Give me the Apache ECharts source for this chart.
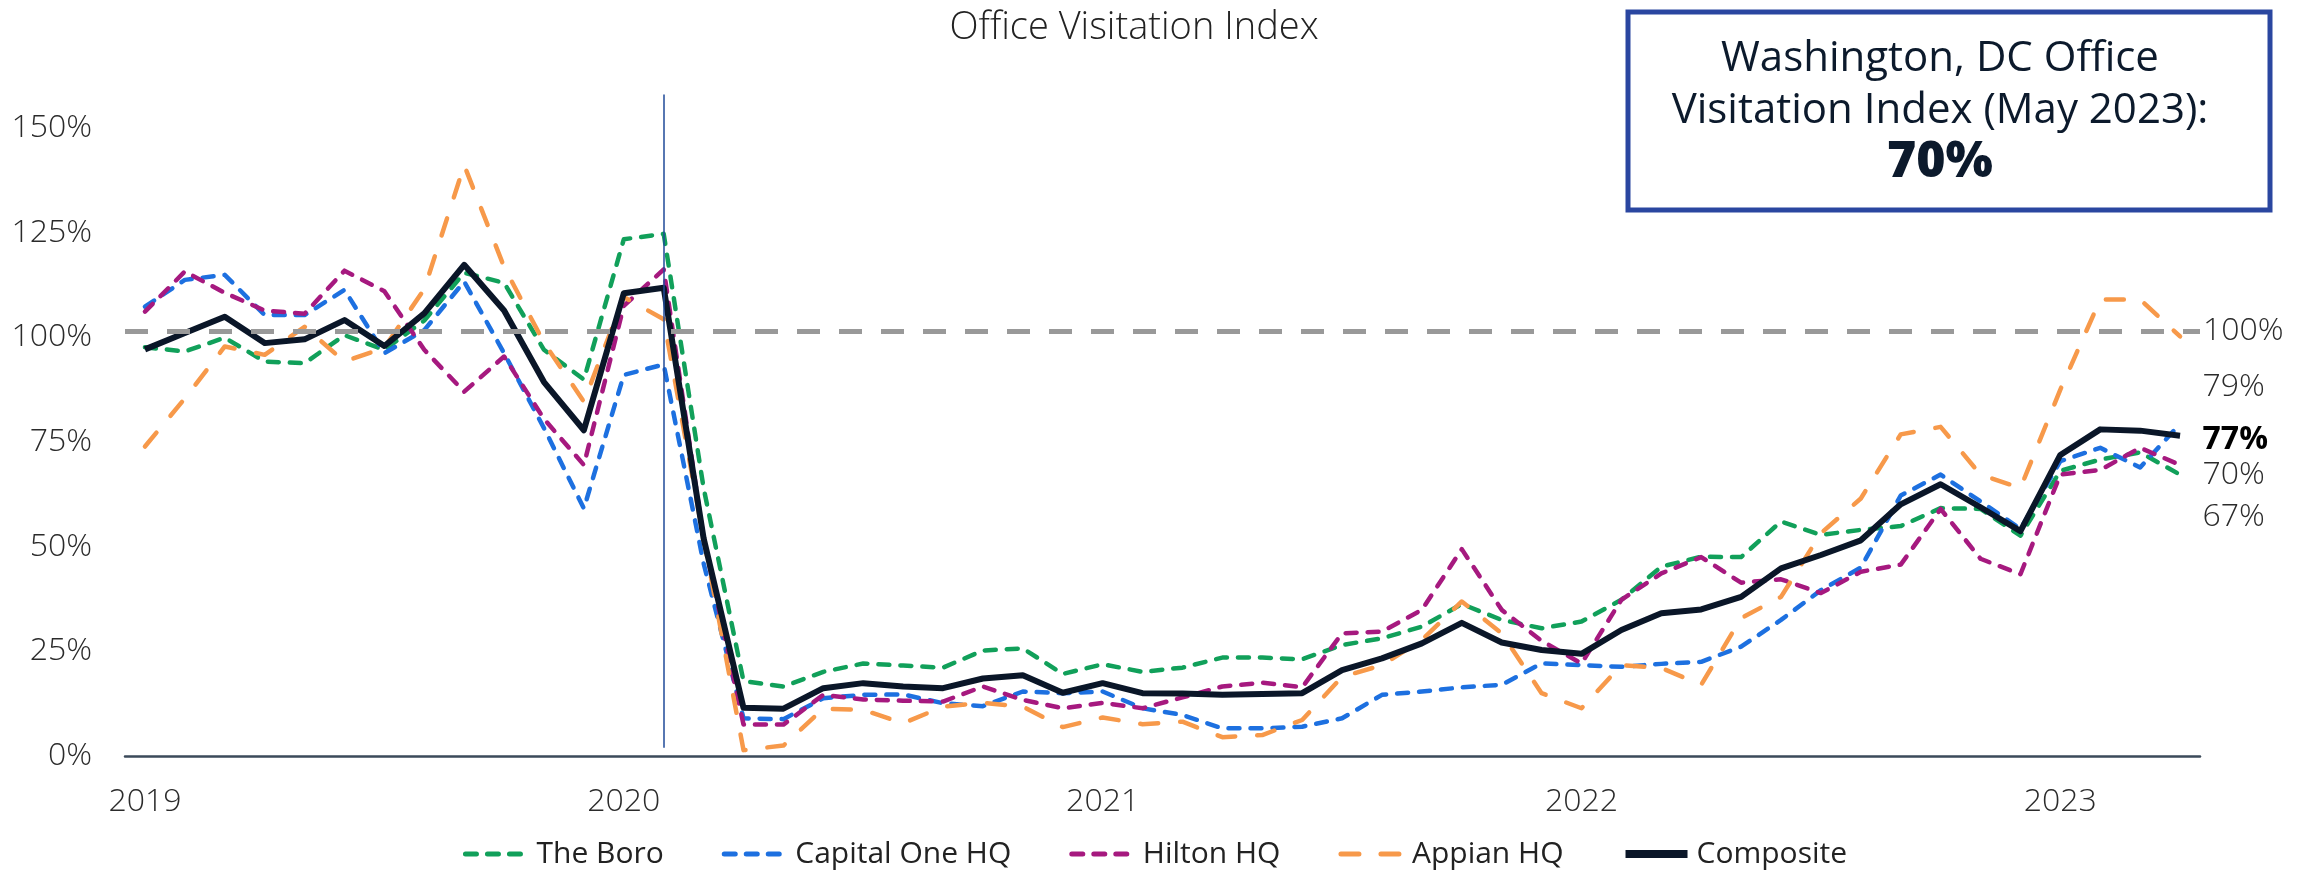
<!DOCTYPE html>
<html>
<head>
<meta charset="utf-8">
<title>Office Visitation Index</title>
<script src="https://cdn.jsdelivr.net/npm/echarts@6/dist/echarts.min.js"></script>
<style>
  html, body { margin: 0; padding: 0; background: #fff; }
  #chart { width: 2310px; height: 874px; }
</style>
</head>
<body>
<div id="chart"></div>
<script>
var FONT = '"Open Sans", "Noto Sans", sans-serif'

var months = [
  '2019-01', '2019-02', '2019-03', '2019-04', '2019-05', '2019-06', '2019-07', '2019-08', '2019-09', '2019-10', '2019-11', '2019-12',
  '2020-01', '2020-02', '2020-03', '2020-04', '2020-05', '2020-06', '2020-07', '2020-08', '2020-09', '2020-10', '2020-11', '2020-12',
  '2021-01', '2021-02', '2021-03', '2021-04', '2021-05', '2021-06', '2021-07', '2021-08', '2021-09', '2021-10', '2021-11', '2021-12',
  '2022-01', '2022-02', '2022-03', '2022-04', '2022-05', '2022-06', '2022-07', '2022-08', '2022-09', '2022-10', '2022-11', '2022-12',
  '2023-01', '2023-02', '2023-03', '2023-04'
]

var theBoro = [
  97.6, 96.6, 99.9, 94.2, 93.8, 100.5, 97.0, 104.0, 115.4, 113.0, 97.0, 89.9,
  123.4, 124.7, 64.0, 17.9, 16.6, 20.1, 22.1, 21.6, 21.1, 25.2, 25.7, 19.6,
  21.9, 20.1, 21.1, 23.5, 23.5, 23.1, 26.5, 28.1, 30.9, 36.3, 32.5, 30.5,
  32.1, 37.3, 45.2, 47.6, 47.5, 56.0, 52.8, 54.0, 54.9, 59.2, 59.0, 52.6,
  68.1, 70.8, 72.5, 67.2
]

var capitalOne = [
  107.3, 113.7, 114.9, 105.3, 105.3, 111.3, 96.2, 101.7, 113.3, 96.2, 78.3, 59.1,
  91.0, 93.5, 46.0, 9.0, 8.8, 13.8, 14.6, 14.7, 12.6, 11.9, 15.4, 15.0,
  15.4, 11.4, 9.8, 6.6, 6.6, 7.0, 9.0, 14.6, 15.4, 16.4, 17.0, 22.1,
  21.7, 21.3, 22.0, 22.5, 26.1, 32.5, 39.6, 45.0, 62.2, 67.2, 60.8, 54.2,
  70.4, 73.6, 68.9, 79.3
]

var hilton = [
  106.1, 115.7, 110.6, 106.4, 105.6, 115.9, 111.0, 97.0, 87.0, 95.4, 80.5, 69.5,
  107.5, 116.2, 52.0, 7.5, 7.5, 14.6, 13.5, 13.2, 13.0, 16.6, 13.4, 11.4,
  12.7, 11.4, 14.0, 16.6, 17.5, 16.4, 29.3, 29.7, 34.9, 49.4, 34.9, 27.5,
  22.1, 37.3, 43.6, 47.5, 41.4, 42.2, 38.9, 44.0, 45.7, 59.0, 47.1, 43.4,
  67.2, 68.3, 73.6, 69.5
]

var appian = [
  73.9, 85.4, 97.8, 95.8, 102.5, 94.2, 97.5, 111.5, 141.1, 116.8, 98.7, 84.6,
  109.6, 104.3, 52.0, 1.4, 2.5, 11.3, 11.0, 7.8, 11.8, 12.7, 11.8, 6.9,
  9.2, 7.6, 8.2, 4.5, 5.0, 8.6, 18.9, 21.7, 27.7, 36.9, 29.3, 15.0,
  11.4, 21.7, 21.0, 17.0, 32.9, 38.0, 53.2, 61.5, 76.8, 78.6, 67.2, 64.0,
  87.5, 109.0, 109.0, 100.2
]

var composite = [
  97.1, 101.0, 104.9, 98.6, 99.5, 104.1, 97.9, 105.7, 117.3, 106.4, 89.3, 77.8,
  110.5, 111.8, 52.0, 11.5, 11.3, 16.2, 17.4, 16.6, 16.2, 18.5, 19.3, 15.1,
  17.4, 15.0, 14.9, 14.6, 14.8, 15.0, 20.5, 23.3, 26.9, 31.8, 27.1, 25.3,
  24.4, 30.1, 34.1, 35.0, 38.0, 44.8, 48.0, 51.5, 60.1, 64.9, 59.4, 53.7,
  71.9, 78.0, 77.7, 76.5
]

// baseline line and the Feb 2020 marker
var baselineValue = 101.4
var covidMonth = '2020-02'
var dcIndex = '70%'

// label on the last point of a series, nudged so labels don't collide
function endMark (data, dy, bold) {
  var last = data.length - 1
  return {
    symbol: 'circle',
    symbolSize: 1,
    itemStyle: { color: 'rgba(0,0,0,0)' },
    label: {
      show: true,
      position: 'right',
      distance: 0,
      offset: [22, dy],
      formatter: function (p) { return Math.round(p.value) + '%' },
      fontFamily: FONT,
      fontSize: 32,
      fontWeight: bold ? 'bold' : 300,
      color: bold ? '#000' : '#2b2b2b'
    },
    data: [{ coord: [months[last], data[last]], value: data[last] }]
  }
}

function dashed (name, data, color, dash) {
  return {
    name: name,
    type: 'line',
    data: data,
    symbol: 'none',
    smooth: false,
    lineStyle: { color: color, width: 4.5, type: dash, cap: 'round', join: 'round' },
    itemStyle: { color: color }
  }
}

var boroSeries = dashed('The Boro', theBoro, '#11a05a', [11, 11])
boroSeries.markPoint = endMark(theBoro, 42, false)

var capSeries = dashed('Capital One HQ', capitalOne, '#1d70e0', [11, 11])
capSeries.markPoint = endMark(capitalOne, -37, false)

var hiltonSeries = dashed('Hilton HQ', hilton, '#a6197f', [11, 11])
hiltonSeries.markPoint = endMark(hilton, 10, false)

var appianSeries = dashed('Appian HQ', appian, '#f7994a', [18, 22])

var compositeSeries = {
  name: 'Composite',
  type: 'line',
  data: composite,
  symbol: 'none',
  lineStyle: { color: '#0a1628', width: 6, join: 'round' },
  itemStyle: { color: '#0a1628' },
  markPoint: endMark(composite, 4, true),
  markLine: {
    silent: true,
    symbol: 'none',
    data: [
      {
        yAxis: baselineValue,
        lineStyle: { color: '#999999', width: 5, type: [23, 19] },
        label: {
          show: true,
          position: 'end',
          distance: 3,
          formatter: '100%',
          fontFamily: FONT,
          fontSize: 32,
          fontWeight: 300,
          color: '#2b2b2b'
        }
      },
      [
        { coord: [covidMonth, 2], lineStyle: { color: '#1f4a99', width: 1.5, type: 'solid' }, label: { show: false } },
        { coord: [covidMonth, 158] }
      ]
    ]
  }
}

// legend shows the line only, no symbol in the middle
var noDot = { opacity: 0 }

var chart = echarts.init(document.getElementById('chart'))

var option = {
  backgroundColor: '#ffffff',
  animation: false,
  title: {
    text: 'Office Visitation Index',
    left: 1129,
    top: 4,
    textAlign: 'center',
    textStyle: {
      fontFamily: FONT,
      fontSize: 38,
      fontWeight: 300,
      color: '#222'
    }
  },
  legend: {
    top: 836,
    left: 'center',
    padding: 0,
    itemWidth: 62,
    itemHeight: 14,
    itemGap: 58,
    textStyle: { fontFamily: FONT, fontSize: 30, color: '#222', lineHeight: 36, padding: [0, 0, 0, 4] },
    data: [
      { name: 'The Boro', lineStyle: { width: 5 }, itemStyle: noDot },
      { name: 'Capital One HQ', lineStyle: { width: 5 }, itemStyle: noDot },
      { name: 'Hilton HQ', lineStyle: { width: 5 }, itemStyle: noDot },
      { name: 'Appian HQ', lineStyle: { width: 5 }, itemStyle: noDot },
      { name: 'Composite', lineStyle: { width: 8 }, itemStyle: noDot }
    ]
  },
  grid: {
    left: 125,
    right: 110,
    top: 86,
    bottom: 118
  },
  xAxis: {
    type: 'category',
    data: months,
    boundaryGap: true,
    axisLine: { lineStyle: { color: '#3b4a5a', width: 2.5 } },
    axisTick: {
      length: 10,
      interval: function (index) { return index % 12 === 0 },
      lineStyle: { color: '#3b4a5a', width: 2.5 }
    },
    axisLabel: {
      interval: function (index) { return index % 12 === 0 },
      formatter: function (v) { return v.slice(0, 4) },
      margin: 30,
      fontFamily: FONT,
      fontSize: 32,
      fontWeight: 300,
      color: '#2b2b2b'
    },
    splitLine: { show: false }
  },
  yAxis: {
    type: 'value',
    min: 0,
    max: 160,
    interval: 25,
    axisLine: { show: false },
    axisTick: { show: false },
    splitLine: { show: false },
    axisLabel: {
      formatter: '{value}%',
      showMaxLabel: false,
      margin: 33,
      fontFamily: FONT,
      fontSize: 32,
      fontWeight: 300,
      color: '#2b2b2b'
    }
  },
  graphic: [
    {
      type: 'rect',
      shape: { x: 1628, y: 12, width: 642, height: 198 },
      style: { fill: '#ffffff', stroke: '#2a46a0', lineWidth: 5 }
    },
    {
      type: 'text',
      x: 1940,
      y: 59,
      style: { text: 'Washington, DC Office', font: '42px ' + FONT, fill: '#0c1a2c', align: 'center', verticalAlign: 'middle' }
    },
    {
      type: 'text',
      x: 1940,
      y: 111,
      style: { text: 'Visitation Index (May 2023):', font: '42px ' + FONT, fill: '#0c1a2c', align: 'center', verticalAlign: 'middle' }
    },
    {
      type: 'text',
      x: 1940,
      y: 163,
      style: { text: dcIndex, font: '800 50px ' + FONT, fill: '#0c1a2c', align: 'center', verticalAlign: 'middle' }
    }
  ],
  series: [boroSeries, capSeries, hiltonSeries, appianSeries, compositeSeries]
}

chart.setOption(option)
</script>
</body>
</html>
